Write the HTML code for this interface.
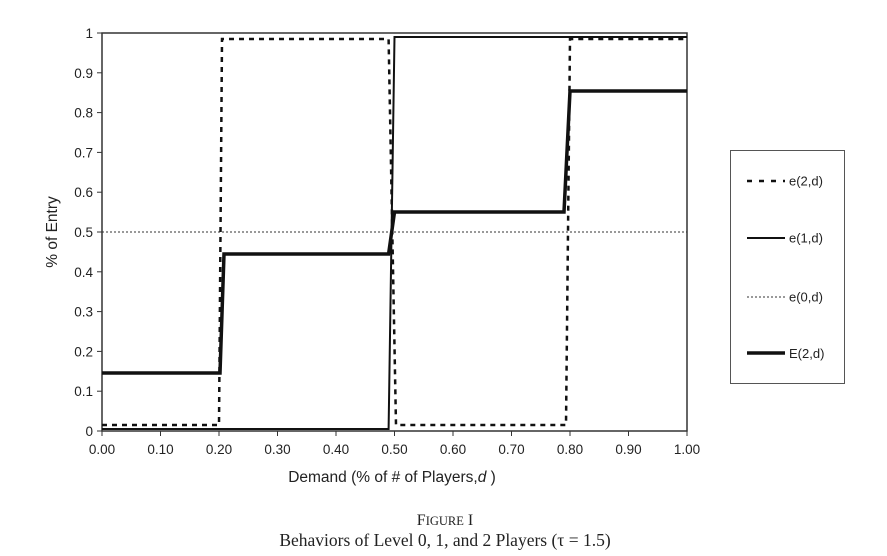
<!DOCTYPE html><html><head><style>body{margin:0;background:#fff}</style></head><body>
<svg width="887" height="551" xmlns="http://www.w3.org/2000/svg" font-family="Liberation Sans, sans-serif">
<rect width="887" height="551" fill="#fff"/>
<rect x="102" y="33" width="585" height="398" fill="none" stroke="#333" stroke-width="1.5"/>
<g stroke="#333" stroke-width="1">
<line x1="97" y1="33" x2="102" y2="33"/><line x1="97" y1="72.8" x2="102" y2="72.8"/><line x1="97" y1="112.6" x2="102" y2="112.6"/><line x1="97" y1="152.4" x2="102" y2="152.4"/><line x1="97" y1="192.2" x2="102" y2="192.2"/><line x1="97" y1="232" x2="102" y2="232"/><line x1="97" y1="271.8" x2="102" y2="271.8"/><line x1="97" y1="311.6" x2="102" y2="311.6"/><line x1="97" y1="351.4" x2="102" y2="351.4"/><line x1="97" y1="391.2" x2="102" y2="391.2"/><line x1="97" y1="431" x2="102" y2="431"/>
<line x1="102" y1="431" x2="102" y2="436"/><line x1="160.5" y1="431" x2="160.5" y2="436"/><line x1="219" y1="431" x2="219" y2="436"/><line x1="277.5" y1="431" x2="277.5" y2="436"/><line x1="336" y1="431" x2="336" y2="436"/><line x1="394.5" y1="431" x2="394.5" y2="436"/><line x1="453" y1="431" x2="453" y2="436"/><line x1="511.5" y1="431" x2="511.5" y2="436"/><line x1="570" y1="431" x2="570" y2="436"/><line x1="628.5" y1="431" x2="628.5" y2="436"/><line x1="687" y1="431" x2="687" y2="436"/>
</g>
<g font-size="13.5" fill="#222" text-anchor="end">
<text x="93" y="38">1</text><text x="93" y="77.8">0.9</text><text x="93" y="117.6">0.8</text><text x="93" y="157.4">0.7</text><text x="93" y="197.2">0.6</text><text x="93" y="237">0.5</text><text x="93" y="276.8">0.4</text><text x="93" y="316.6">0.3</text><text x="93" y="356.4">0.2</text><text x="93" y="396.2">0.1</text><text x="93" y="436">0</text>
</g>
<g font-size="13.5" fill="#222" text-anchor="middle">
<text x="102" y="454">0.00</text><text x="160.5" y="454">0.10</text><text x="219" y="454">0.20</text><text x="277.5" y="454">0.30</text><text x="336" y="454">0.40</text><text x="394.5" y="454">0.50</text><text x="453" y="454">0.60</text><text x="511.5" y="454">0.70</text><text x="570" y="454">0.80</text><text x="628.5" y="454">0.90</text><text x="687" y="454">1.00</text>
</g>
<text x="392" y="482" font-size="15.5" fill="#222" text-anchor="middle">Demand (% of # of Players,<tspan font-style="italic">d</tspan> )</text>
<text transform="translate(57,232) rotate(-90)" font-size="15.5" fill="#222" text-anchor="middle">% of Entry</text>
<line x1="102" y1="232" x2="687" y2="232" stroke="#333" stroke-width="1" stroke-dasharray="2,2"/>
<polyline points="102,429 388.6,429 394.5,37 687,37" fill="none" stroke="#111" stroke-width="2"/>
<polyline points="102,425 219,425 222,39 388.6,39 396,425 566,425 570,39 687,39" fill="none" stroke="#111" stroke-width="2.5" stroke-dasharray="5,5"/>
<polyline points="102,373 220,373 224,254 388.6,254 394.5,212 564,212 570,91 687,91" fill="none" stroke="#111" stroke-width="3.5"/>
<rect x="730.5" y="150.5" width="114" height="233" fill="#fff" stroke="#555" stroke-width="1"/>
<line x1="747" y1="181" x2="785" y2="181" stroke="#111" stroke-width="2.5" stroke-dasharray="5,7"/>
<line x1="747" y1="238" x2="785" y2="238" stroke="#111" stroke-width="2"/>
<line x1="747" y1="297" x2="785" y2="297" stroke="#333" stroke-width="1" stroke-dasharray="2,2"/>
<line x1="747" y1="353" x2="785" y2="353" stroke="#111" stroke-width="3.5"/>
<g font-size="13" fill="#222"><text x="789" y="185.5">e(2,d)</text><text x="789" y="242.5">e(1,d)</text><text x="789" y="301.5">e(0,d)</text><text x="789" y="358">E(2,d)</text></g>
<text x="445" y="525" font-family="Liberation Serif, serif" font-size="16" fill="#222" text-anchor="middle">F<tspan font-size="12.5">IGURE</tspan> I</text>
<text x="445" y="546" font-family="Liberation Serif, serif" font-size="17.5" fill="#222" text-anchor="middle">Behaviors of Level 0, 1, and 2 Players (τ = 1.5)</text>
</svg></body></html>
